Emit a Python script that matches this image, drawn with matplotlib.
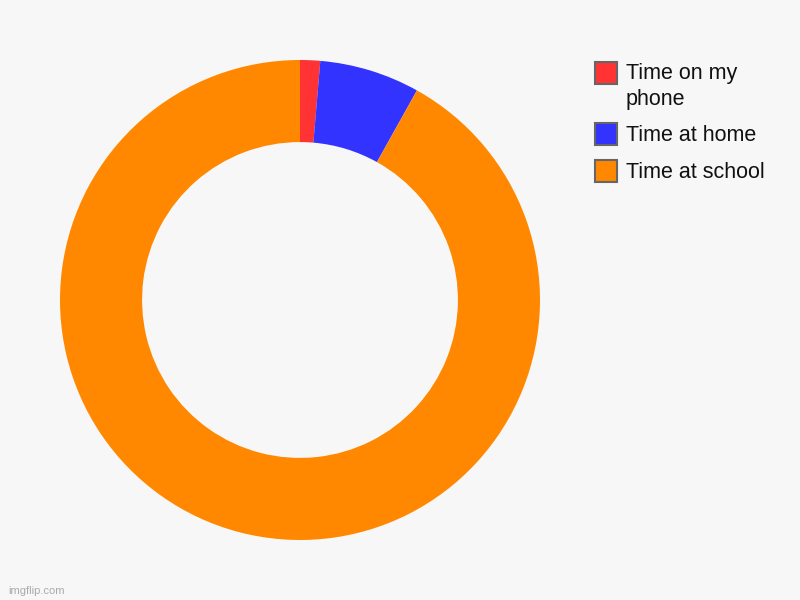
import matplotlib
matplotlib.use("Agg")
from matplotlib import pyplot as plt
from matplotlib.patches import Rectangle

labels = ["Time on my\nphone", "Time at home", "Time at school"]
values = [1.35, 6.75, 91.9]
colors = ["#ff3333", "#3333ff", "#ff8800"]

plt.rcParams['font.family'] = ['Liberation Sans', 'DejaVu Sans']

W, H = 800, 600
fig = plt.figure(figsize=(8, 6), dpi=100)
fig.patch.set_facecolor("#f7f7f7")

# donut centred at (300, 300) px, radius 240 px
ax = fig.add_axes([60 / W, 60 / H, 480 / W, 480 / H])
ax.set_facecolor("#f7f7f7")
ax.pie(values, colors=colors, startangle=90, counterclock=False, radius=1,
       wedgeprops=dict(width=0.342, edgecolor="none"))
ax.set_xlim(-1, 1)
ax.set_ylim(-1, 1)
ax.set_aspect("equal")
ax.axis("off")

# legend drawn by hand (pixel positions from the top)
box_tops = [62, 123, 160]
baselines = [79, 141, 178]
line_step = 26
for lab, col, top, base in zip(labels, colors, box_tops, baselines):
    fig.patches.append(Rectangle((595 / W, 1 - (top + 22) / H), 22 / W, 22 / H,
                                 transform=fig.transFigure, facecolor=col,
                                 edgecolor="#666666", linewidth=1.5))
    for k, line in enumerate(lab.split("\n")):
        fig.text(626 / W, 1 - (base + k * line_step) / H, line, fontsize=15.5,
                 color="#111111", ha="left", va="baseline")

fig.text(8 / W, 1 - 591 / H, "imgflip.com", color="#aaaaaa", fontsize=8,
         va="center", ha="left")

fig.savefig("out.png", dpi=100, facecolor=fig.get_facecolor())
